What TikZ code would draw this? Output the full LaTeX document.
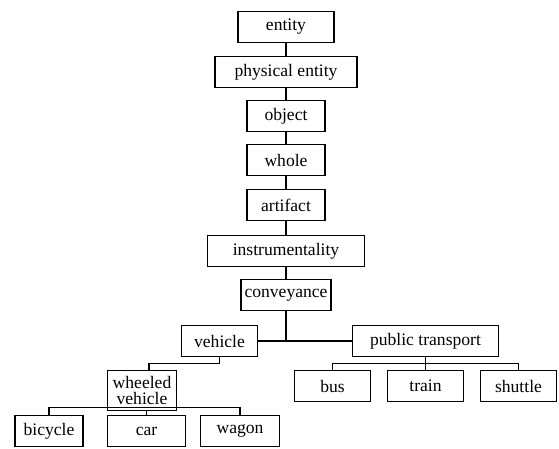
\documentclass[tikz,border=0pt]{standalone}
\usepackage{fontspec}
\setmainfont{Liberation Serif}
\usetikzlibrary{positioning,calc}

\begin{document}
\begin{tikzpicture}[x=0.025cm,y=-0.025cm,
  box/.style={draw,line width=0.8pt,minimum height=0.78cm,inner sep=2pt,
    font=\fontsize{12.5}{12.5}\selectfont},
  link/.style={line width=0.8pt},
  stem/.style={line width=1.8pt}]
\useasboundingbox (0,0) rectangle (559,448);
% chain from entity down to conveyance
\node[box,minimum width=2.4cm] (entity) at (286,27) {entity};
\node[box,minimum width=3.55cm] (physical) at (286,72) {physical entity};
\node[box,minimum width=1.95cm] (object) at (286,116) {object};
\node[box,minimum width=1.95cm] (whole) at (286,160) {whole};
\node[box,minimum width=1.95cm] (artifact) at (286,205) {artifact};
\node[box,minimum width=3.92cm] (instrument) at (286,251) {instrumentality};
\node[box,minimum width=2.25cm] (conveyance) at (286,295) {conveyance};
% second level
\node[box,minimum width=1.92cm] (vehicle) at (219.5,341) {vehicle};
\node[box,minimum width=3.67cm] (transport) at (425.5,341) {public transport};
% wheeled vehicles
\node[box,minimum width=1.72cm,minimum height=1.02cm,align=center,
  font=\fontsize{12.5}{11}\selectfont] (wheeled) at (142,390.5) {wheeled\\vehicle};
\node[box,minimum width=1.7cm] (bicycle) at (49,431) {bicycle};
\node[box,minimum width=1.97cm] (car) at (146.5,431) {car};
\node[box,minimum width=1.97cm] (wagon) at (240,431) {wagon};
% public transport
\node[box,minimum width=1.92cm] (bus) at (332.5,386) {bus};
\node[box,minimum width=1.92cm] (train) at (425.5,386) {train};
\node[box,minimum width=1.92cm] (shuttle) at (518.5,386) {shuttle};

\foreach \a/\b in {entity/physical,physical/object,object/whole,whole/artifact,
  artifact/instrument,instrument/conveyance}
  \draw[link] (\a) -- (\b);
\draw[stem] (conveyance.south) -- (conveyance.south |- vehicle.east);
\draw[link] (vehicle.east) -- (transport.west);

\draw[link] (vehicle.south) -- ++(0,6) -| ([xshift=5]wheeled.north);
\draw[link] (car.north) -- (car.north |- wheeled.south);
\draw[link] (bicycle.north) -- ++(0,-7) coordinate (wj) -| (wagon.north);

\draw[link] (transport.south) -- ++(0,6) coordinate (pj);
\draw[link] (bus.north) |- (pj) -| (shuttle.north);
\draw[link] (train.north) -- (pj);
\end{tikzpicture}
\end{document}
